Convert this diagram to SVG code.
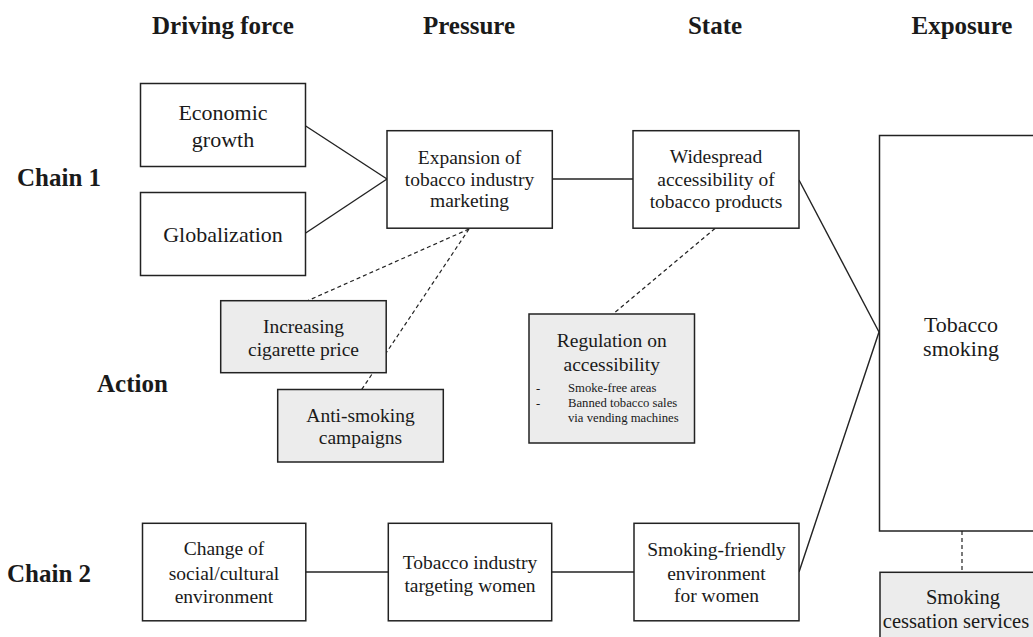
<svg xmlns="http://www.w3.org/2000/svg" width="1033" height="637" viewBox="0 0 1033 637">
<style>
text{font-family:"Liberation Serif","Times New Roman",serif;fill:#1a1a1a}
.h{font-size:25px;font-weight:bold;text-anchor:middle}
.l{font-size:25px;font-weight:bold}
.t{font-size:22px;text-anchor:middle}
.m{font-size:19.5px;text-anchor:middle}
.s{font-size:12.7px}
.box{fill:#fff;stroke:#222;stroke-width:1.5}
.act{fill:#ececec;stroke:#222;stroke-width:1.5}
.c{stroke:#222;stroke-width:1.4;fill:none}
.d{stroke:#222;stroke-width:1.2;fill:none;stroke-dasharray:4 3}
</style>
<rect width="1033" height="637" fill="#fff"/>
<g id="headers">
<text class="h" x="223" y="34">Driving force</text>
<text class="h" x="469" y="34">Pressure</text>
<text class="h" x="715" y="34">State</text>
<text class="h" x="962" y="34">Exposure</text>
<text class="l" x="17" y="186">Chain 1</text>
<text class="l" x="97" y="392">Action</text>
<text class="l" x="7" y="582">Chain 2</text>
</g>
<g id="connectors">
<line class="c" x1="305.7" y1="126" x2="387" y2="179"/>
<line class="c" x1="305.7" y1="233" x2="387" y2="179"/>
<line class="c" x1="552" y1="179" x2="633" y2="179"/>
<line class="c" x1="799" y1="180" x2="879" y2="332"/>
<line class="c" x1="799" y1="572" x2="879" y2="332"/>
<line class="c" x1="306" y1="572" x2="388" y2="572"/>
<line class="c" x1="552" y1="572" x2="634" y2="572"/>
<line class="d" x1="469" y1="229" x2="307" y2="301"/>
<line class="d" x1="469" y1="229" x2="361.7" y2="389.5"/>
<line class="d" x1="715" y1="228.5" x2="613" y2="314"/>
<line class="d" x1="962" y1="531" x2="962" y2="572"/>
</g>
<g id="economic-growth">
<rect class="box" x="140.5" y="83.5" width="165" height="83"/>
<text class="t" x="223" y="120">Economic</text>
<text class="t" x="223" y="147">growth</text>
</g>
<g id="globalization">
<rect class="box" x="140.5" y="192.5" width="165" height="83"/>
<text class="t" x="223" y="242">Globalization</text>
</g>
<g id="expansion">
<rect class="box" x="387" y="130.7" width="165.3" height="97.5"/>
<text class="m" x="469.5" y="164">Expansion of</text>
<text class="m" x="469.5" y="185.5">tobacco industry</text>
<text class="m" x="469.5" y="207">marketing</text>
</g>
<g id="widespread">
<rect class="box" x="633" y="130.7" width="166" height="97.5"/>
<text class="m" x="716" y="163">Widespread</text>
<text class="m" x="716" y="185.5">accessibility of</text>
<text class="m" x="716" y="208">tobacco products</text>
</g>
<g id="tobacco-smoking">
<rect class="box" x="879.5" y="135.5" width="170" height="395.5"/>
<text class="t" x="961" y="332">Tobacco</text>
<text class="t" x="961" y="356">smoking</text>
</g>
<g id="increasing-price">
<rect class="act" x="220.7" y="300.7" width="165.5" height="72"/>
<text class="m" x="303.5" y="333">Increasing</text>
<text class="m" x="303.5" y="355.5">cigarette price</text>
</g>
<g id="anti-smoking">
<rect class="act" x="277.7" y="389.5" width="165.6" height="72.5"/>
<text class="m" x="360.5" y="421.5">Anti-smoking</text>
<text class="m" x="360.5" y="444">campaigns</text>
</g>
<g id="regulation">
<rect class="act" x="529" y="314" width="165.5" height="129"/>
<text class="m" x="611.7" y="347">Regulation on</text>
<text class="m" x="611.7" y="371">accessibility</text>
<text class="s" x="536" y="392">-</text>
<text class="s" x="568" y="392">Smoke-free areas</text>
<text class="s" x="536" y="407">-</text>
<text class="s" x="568" y="407">Banned tobacco sales</text>
<text class="s" x="568" y="422">via vending machines</text>
</g>
<g id="social-change">
<rect class="box" x="142.5" y="523.3" width="163.3" height="97.5"/>
<text class="m" x="224" y="555">Change of</text>
<text class="m" x="224" y="580">social/cultural</text>
<text class="m" x="224" y="603">environment</text>
</g>
<g id="targeting-women">
<rect class="box" x="388.3" y="523.3" width="163.4" height="97.5"/>
<text class="m" x="470" y="568.5">Tobacco industry</text>
<text class="m" x="470" y="592">targeting women</text>
</g>
<g id="smoking-friendly">
<rect class="box" x="634" y="523.3" width="165" height="97.5"/>
<text class="m" x="716.5" y="556">Smoking-friendly</text>
<text class="m" x="716.5" y="580">environment</text>
<text class="m" x="716.5" y="602">for women</text>
</g>
<g id="cessation">
<rect class="act" x="880" y="572.3" width="170" height="80"/>
<text class="t" x="963" y="604" style="font-size:20.5px">Smoking</text>
<text class="t" x="956" y="628" style="font-size:20.5px">cessation services</text>
</g>
</svg>
